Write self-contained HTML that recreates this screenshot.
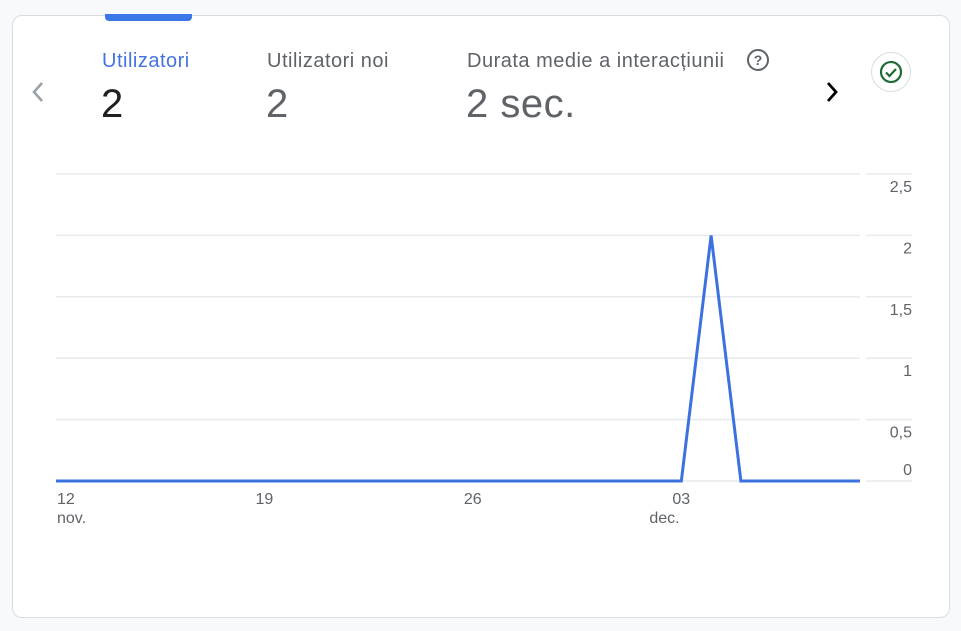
<!DOCTYPE html>
<html><head><meta charset="utf-8"><style>
body{margin:0;width:961px;height:631px;background:#f8f9fa;font-family:"Liberation Sans",sans-serif;position:relative;overflow:hidden}
.card{position:absolute;left:12px;top:15px;width:936px;height:601px;background:#fff;border:1px solid #dadce0;border-radius:10px}
.abs{position:absolute}
.lbl{font-size:20px;letter-spacing:0.5px;color:#5f6368;top:50px}
.val{font-size:40px;letter-spacing:0.5px;color:#5f6368;top:82px}
</style></head><body>
<div class="card"></div>
<div class="abs" style="left:105px;top:14px;width:87px;height:7px;background:#3b78e7;border-radius:0 0 4px 4px"></div>
<svg class="abs" style="left:28px;top:80px" width="20" height="24"><path d="M14 3L6 12l8 9" fill="none" stroke="#9aa0a6" stroke-width="2.5"/></svg>
<div class="abs lbl" style="left:102px;color:#4473e0">Utilizatori</div>
<div class="abs val" style="left:101px;color:#202124">2</div>
<div class="abs lbl" style="left:267px">Utilizatori noi</div>
<div class="abs val" style="left:266px">2</div>
<div class="abs lbl" style="left:467px">Durata medie a interacțiunii</div>
<div class="abs" style="left:747px;top:49px;width:18px;height:18px;border:2px solid #5f6368;border-radius:50%;font-size:14px;font-weight:bold;color:#5f6368;text-align:center;line-height:18px">?</div>
<div class="abs val" style="left:466px">2 sec.</div>
<svg class="abs" style="left:822px;top:80px" width="20" height="24"><path d="M6 3l8 9-8 9" fill="none" stroke="#000" stroke-width="2.8"/></svg>
<div class="abs" style="left:871px;top:52px;width:40px;height:40px;border:1px solid #dadce0;border-radius:50%;box-sizing:border-box">
<svg width="38" height="38" style="position:absolute;left:0;top:0"><circle cx="19" cy="19" r="10" fill="none" stroke="#1e6b34" stroke-width="2.2"/><path d="M14 19.5l3.5 3.5 6.5-7" fill="none" stroke="#1e6b34" stroke-width="2.2"/></svg></div>
<svg id="chart" class="abs" style="left:0;top:0" width="961" height="631"></svg>
<script>
const values=[0,0,0,0,0,0,0,0,0,0,0,0,0,0,0,0,0,0,0,0,0,0,2,0,0,0,0,0];
const yTicks=[0,0.5,1,1.5,2,2.5];
const yTickLabels=["0","0,5","1","1,5","2","2,5"];
const xTickIdx=[0,7,14,21];
const xTickLabels=["12","19","26","03"];
const xTickSub=["nov.","","","dec."];
const svg=document.getElementById('chart');const NS="http://www.w3.org/2000/svg";
const x0=56,x1=860,y0=481,y1=174;
const xs=i=>x0+(x1-x0)*i/(values.length-1);
const ys=v=>y0-(y0-y1)*v/2.5;
function mk(t,a){const e=document.createElementNS(NS,t);for(const k in a)e.setAttribute(k,a[k]);svg.appendChild(e);return e;}
yTicks.forEach((v,i)=>{
 let g=mk('line',{x1:x0,x2:x1,y1:ys(v),y2:ys(v),stroke:'#e8eaed','stroke-width':1.5});
 
 
 let g2=mk('line',{x1:866,x2:912,y1:ys(v),y2:ys(v),stroke:'#e8eaed','stroke-width':1.5});
 
 
 let t=mk('text',{x:912,y:v===0?ys(v)-6:ys(v)+18,'text-anchor':'end','font-size':16,fill:'#5f6368','font-family':'Liberation Sans, sans-serif'});
 t.textContent=yTickLabels[i];
 
 
});
xTickIdx.forEach((d,i)=>{
 let t=mk('text',{x:i?xs(d)-9:xs(d)+1,y:504,'font-size':16,fill:'#5f6368','font-family':'Liberation Sans, sans-serif'});
 t.textContent=xTickLabels[i];
 
 
 if(xTickSub[i]){let s=mk('text',{x:xs(d)+(i?-32:1),y:523,'font-size':16,fill:'#5f6368','font-family':'Liberation Sans, sans-serif'});
 s.textContent=xTickSub[i];
 
 }
});
let p=mk('polyline',{points:values.map((v,i)=>xs(i)+','+ys(v)).join(' '),fill:'none',stroke:'#3b72e0','stroke-width':3});


</script>
</body></html>
